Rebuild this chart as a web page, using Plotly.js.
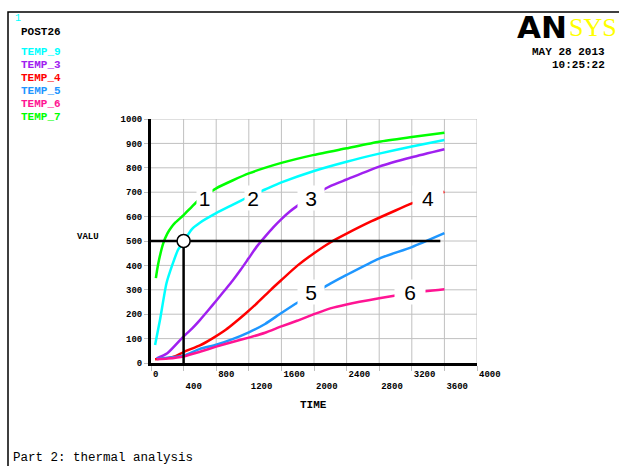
<!DOCTYPE html>
<html><head><meta charset="utf-8">
<script src="https://cdn.plot.ly/plotly-3.0.1.min.js"></script>
<style>html,body{margin:0;padding:0;background:#fff;} #chart{width:619px;height:466px;}</style>
</head><body><div id="chart"></div>
<script>
// ---- data ----
const seriesNames = ['TEMP_9', 'TEMP_3', 'TEMP_4', 'TEMP_5', 'TEMP_6', 'TEMP_7'];
const seriesColors = ['#00ffff', '#a020f0', '#ff0000', '#1e96ff', '#ff1493', '#00ff00'];

const time9 = [50, 110, 190, 270, 330, 400, 500, 600, 800, 1000, 1200, 1400, 1600, 2000, 2400, 2800, 3200, 3600];
const temp9 = [74, 176, 327, 410, 463, 497, 548, 575, 614, 648, 682, 711, 740, 787, 825, 858, 887, 914];

const time3 = [70, 200, 389, 500, 600, 700, 800, 900, 1000, 1100, 1200, 1300, 1400, 1500, 1600, 1700, 1800, 2000, 2200, 2400, 2800, 3200, 3600];
const temp3 = [19, 40, 105, 140, 176, 215, 255, 296, 337, 382, 430, 478, 518, 556, 590, 620, 645, 688, 725, 752, 805, 843, 876];

const time4 = [50, 200, 300, 400, 600, 750, 900, 1000, 1150, 1300, 1470, 1600, 1800, 2000, 2200, 2400, 2700, 3000, 3200, 3400, 3600];
const temp4 = [15, 20, 28, 45, 72, 100, 132, 158, 200, 245, 300, 340, 400, 450, 494, 530, 580, 625, 654, 680, 702];

const time5 = [70, 200, 400, 600, 800, 1000, 1200, 1400, 1600, 1800, 2000, 2200, 2400, 2800, 3200, 3600];
const temp5 = [18, 22, 30, 58, 75, 98, 126, 160, 205, 248, 285, 325, 361, 428, 475, 532];

const time6 = [70, 200, 400, 600, 800, 1000, 1200, 1400, 1600, 1800, 2000, 2200, 2400, 2800, 3200, 3600];
const temp6 = [15, 18, 27, 46, 67, 86, 104, 124, 150, 174, 200, 224, 240, 265, 287, 302];

const time7 = [60, 75, 100, 150, 200, 250, 300, 400, 500, 600, 800, 1000, 1200, 1600, 2000, 2400, 2800, 3200, 3600];
const temp7 = [348, 381, 425, 490, 530, 556, 576, 606, 640, 672, 716, 748, 777, 820, 853, 880, 907, 926, 944];

const seriesTimes = [time9, time3, time4, time5, time6, time7];
const seriesTemps = [temp9, temp3, temp4, temp5, temp6, temp7];

// curve number labels
const curveLabels = ['1', '2', '3', '4', '5', '6'];
const curveLabelTime = [660, 1250, 1960, 3400, 1960, 3180];
const curveLabelValue = [678, 678, 678, 678, 292, 292];

// reference point (crosshair)
const refTime = 400;
const refValue = 500;
const refLineEndTime = 3550;

const xTicks = [0, 400, 800, 1200, 1600, 2000, 2400, 2800, 3200, 3600, 4000];
const yTicks = [0, 100, 200, 300, 400, 500, 600, 700, 800, 900, 1000];

// ---- layout helpers (pixel -> paper) ----
const W = 619, H = 466;
const L = 151, R = 477, T = 119, B = 363;
const px = x => (x - L) / (R - L);
const py = y => (B - y) / (B - T);

const mono = 'Liberation Mono, Courier New, monospace';

const traces = [];
for (let i = 0; i < seriesNames.length; i++) {
  traces.push({
    type: 'scatter', mode: 'lines', name: seriesNames[i],
    x: seriesTimes[i], y: seriesTemps[i],
    line: {color: seriesColors[i], width: 2.5, shape: 'spline', smoothing: 0.6},
    hoverinfo: 'skip', showlegend: false
  });
}
// crosshair
traces.push({type: 'scatter', mode: 'lines', x: [0, refLineEndTime], y: [refValue, refValue],
  line: {color: '#000', width: 2.5}, showlegend: false, hoverinfo: 'skip'});
traces.push({type: 'scatter', mode: 'lines', x: [refTime, refTime], y: [0, refValue],
  line: {color: '#000', width: 2.5}, showlegend: false, hoverinfo: 'skip'});
traces.push({type: 'scatter', mode: 'markers', x: [refTime], y: [refValue],
  marker: {size: 13, color: '#fff', line: {color: '#000', width: 1.5}}, showlegend: false, hoverinfo: 'skip'});

const annotations = [];
// curve numbers
const labelWidths = [13, 14, 24, 28, 24, 28];
for (let i = 0; i < curveLabels.length; i++) {
  annotations.push({x: curveLabelTime[i], y: curveLabelValue[i], xref: 'x', yref: 'y',
    text: curveLabels[i], showarrow: false, bgcolor: '#fff', width: labelWidths[i], height: 22,
    font: {family: 'Liberation Sans, Arial, sans-serif', size: 21, color: '#000'}});
}
// legend-like list
const legendY = [52, 65, 78, 91, 104, 117];
for (let i = 0; i < seriesNames.length; i++) {
  annotations.push({x: px(19), y: py(legendY[i]), xref: 'paper', yref: 'paper', xanchor: 'left', yanchor: 'middle',
    text: '<b>' + seriesNames[i] + '</b>', showarrow: false,
    font: {family: mono, size: 11, color: seriesColors[i]}});
}
annotations.push({x: px(13), y: py(18), xref: 'paper', yref: 'paper', xanchor: 'left', yanchor: 'middle',
  text: '1', showarrow: false, font: {family: mono, size: 10, color: '#00ffff'}});
annotations.push({x: px(19), y: py(32), xref: 'paper', yref: 'paper', xanchor: 'left', yanchor: 'middle',
  text: '<b>POST26</b>', showarrow: false, font: {family: mono, size: 11, color: '#000'}});
annotations.push({x: px(607), y: py(52), xref: 'paper', yref: 'paper', xanchor: 'right', yanchor: 'middle',
  text: '<b>MAY 28 2013</b>', showarrow: false, font: {family: mono, size: 11, color: '#000'}});
annotations.push({x: px(607), y: py(65), xref: 'paper', yref: 'paper', xanchor: 'right', yanchor: 'middle',
  text: '<b>10:25:22</b>', showarrow: false, font: {family: mono, size: 11, color: '#000'}});
annotations.push({x: px(569), y: py(27), xref: 'paper', yref: 'paper', xanchor: 'right', yanchor: 'middle',
  text: '<b>AN</b>', showarrow: false, font: {family: 'DejaVu Sans, sans-serif', size: 31, color: '#000'}});
annotations.push({x: px(567), y: py(27), xref: 'paper', yref: 'paper', xanchor: 'left', yanchor: 'middle',
  text: 'SYS', showarrow: false, font: {family: 'Liberation Serif, serif', size: 26, color: '#ffff00'}});
annotations.push({x: px(88), y: py(237), xref: 'paper', yref: 'paper', xanchor: 'center', yanchor: 'middle',
  text: '<b>VALU</b>', showarrow: false, font: {family: mono, size: 9, color: '#000'}});
annotations.push({x: px(313), y: py(405), xref: 'paper', yref: 'paper', xanchor: 'center', yanchor: 'middle',
  text: '<b>TIME</b>', showarrow: false, font: {family: mono, size: 11, color: '#000'}});
annotations.push({x: px(11), y: py(458), xref: 'paper', yref: 'paper', xanchor: 'left', yanchor: 'middle',
  text: 'Part 2: thermal analysis', showarrow: false, font: {family: mono, size: 12.5, color: '#000'}});

const xMax = xTicks[xTicks.length - 1];
const yMax = yTicks[yTicks.length - 1];
const gridLine = {color: '#c0c0c0', width: 1};
const shapes = [
  // outer frame
  {type: 'rect', xref: 'paper', yref: 'paper', x0: px(8), y0: py(12), x1: px(660), y1: py(500),
   line: {color: '#000', width: 1.5}, fillcolor: 'rgba(0,0,0,0)'}
];
// grid lines drawn from the tick arrays
xTicks.slice(1).forEach(v => shapes.push({type: 'line', xref: 'x', yref: 'y', x0: v, x1: v, y0: 0, y1: yMax, line: gridLine, layer: 'below'}));
yTicks.slice(1).forEach(v => shapes.push({type: 'line', xref: 'x', yref: 'y', x0: 0, x1: xMax, y0: v, y1: v, line: gridLine, layer: 'below'}));

const tickFont = {family: mono, size: 9, color: '#000', weight: 'bold'};

const layout = {
  width: W, height: H, autosize: false,
  margin: {l: L, r: W - R, t: T, b: H - B, pad: 0},
  paper_bgcolor: '#fff', plot_bgcolor: '#fff',
  showlegend: false,
  xaxis: {range: [0, 4000], showgrid: false,
    tickmode: 'array', tickvals: xTicks,
    ticktext: xTicks.map((v, i) => (i % 2 === 1 ? ' <br>' : '') + v),
    ticks: 'outside', ticklen: 5, tickcolor: '#c0c0c0', tickwidth: 1,
    ticklabelposition: 'outside right', tickfont: tickFont,
    showline: true, linecolor: '#000', linewidth: 3, zeroline: false, fixedrange: true},
  yaxis: {range: [0, 1000], showgrid: false,
    tickmode: 'array', tickvals: yTicks, ticktext: yTicks.map(String),
    ticks: 'outside', ticklen: 4, tickcolor: '#c0c0c0', tickwidth: 1,
    tickfont: tickFont,
    showline: true, linecolor: '#000', linewidth: 3, zeroline: false, fixedrange: true},
  annotations: annotations,
  shapes: shapes
};

Plotly.newPlot('chart', traces, layout, {staticPlot: true, displayModeBar: false});
</script>
</body></html>
